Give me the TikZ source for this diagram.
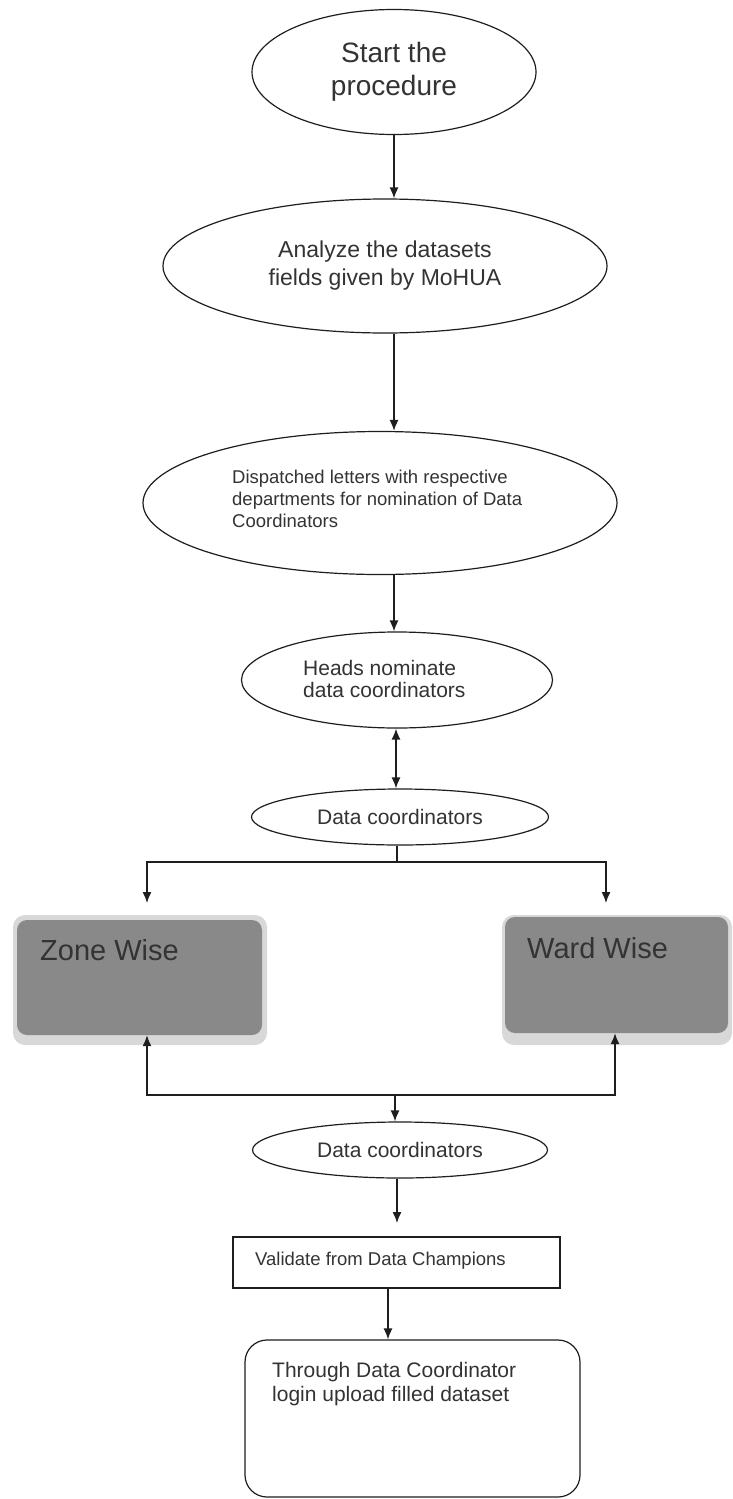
\documentclass[tikz,border=0pt]{standalone}
\usepackage{fontspec}
\setmainfont{Liberation Sans}
\usetikzlibrary{shapes.geometric,arrows.meta}
\definecolor{ink}{HTML}{1E1E1E}
\definecolor{txt}{HTML}{333333}
\definecolor{boxfill}{HTML}{898989}
\definecolor{halo}{HTML}{D8D8D8}
\begin{document}
\begin{tikzpicture}[x=1pt,y=-1pt,
  oval/.style={draw=ink, line width=1.2pt, ellipse, inner sep=0pt, text=txt, align=center},
  lbl/.style={text=txt, inner sep=0pt, align=left},
  arr/.style={draw=ink, line width=1.4pt, -{Latex[length=11pt,width=9pt]}},
  dblarr/.style={draw=ink, line width=1.4pt, {Latex[length=11pt,width=9pt]}-{Latex[length=11pt,width=9pt]}},
  ln/.style={draw=ink, line width=1.4pt},
  halobox/.style={fill=halo, rounded corners=12pt, inner sep=0pt},
  darkbox/.style={fill=boxfill, rounded corners=10pt, inner sep=0pt},
  bigtxt/.style={text=txt, inner sep=0pt, font=\fontsize{29}{33}\selectfont},
  plainbox/.style={draw=ink, line width=1.2pt, inner sep=0pt}]
\useasboundingbox[fill=white] (0,0) rectangle (733,1499);

% ellipses
\node[oval, minimum width=284pt, minimum height=125pt, font=\fontsize{28}{33}\selectfont] (e1) at (394,72) {Start the\\procedure};
\node[oval, minimum width=444pt, minimum height=134pt, font=\fontsize{23}{28}\selectfont] (e2) at (385,266) {Analyze the datasets\\fields given by MoHUA};
\node[oval, minimum width=474pt, minimum height=143pt] (e3) at (380,503) {};
\node[lbl, anchor=west, font=\fontsize{18.5}{22}\selectfont] (t3) at (232,498.5) {Dispatched letters with respective\\departments for nomination of Data\\Coordinators};
\node[oval, minimum width=311pt, minimum height=96pt] (e4) at (397,680) {};
\node[lbl, anchor=west, font=\fontsize{21}{22}\selectfont] (t4) at (303,679) {Heads nominate\\data coordinators};
\node[oval, minimum width=297pt, minimum height=56pt, font=\fontsize{21}{24}\selectfont] (e5) at (400,817) {Data coordinators};

% zone / ward boxes
\node[halobox, minimum width=254pt, minimum height=130pt] (zoneh) at (140,980) {};
\node[darkbox, minimum width=245pt, minimum height=115pt] (zone) at (139.5,977.5) {};
\node[bigtxt, anchor=base west] (zonet) at (40,960) {Zone Wise};
\node[halobox, minimum width=230pt, minimum height=130pt] (wardh) at (617,980) {};
\node[darkbox, minimum width=223pt, minimum height=116pt] (ward) at (616.5,975) {};
\node[bigtxt, anchor=base west] (wardt) at (527,958) {Ward Wise};

\node[oval, minimum width=295pt, minimum height=56pt, font=\fontsize{21}{24}\selectfont] (e6) at (400,1150) {Data coordinators};

\node[plainbox, minimum width=327pt, minimum height=51pt] (v) at (396.5,1262.5) {};
\node[lbl, anchor=west, font=\fontsize{18.5}{22}\selectfont] (tv) at (255,1261) {Validate from Data Champions};

\node[plainbox, rounded corners=22pt, minimum width=335pt, minimum height=157pt] (f) at (412.5,1418.5) {};
\node[lbl, anchor=west, font=\fontsize{21}{24}\selectfont] (tf) at (272,1384) {Through Data Coordinator\\login upload filled dataset};

% helper coordinates
\coordinate (ax) at (394,0);
\coordinate (ax2) at (396,0);
\coordinate (s1) at (397,862);
\coordinate (zl) at (147,903);
\coordinate (wr) at (606,903);
\coordinate (zb) at (147,0);
\coordinate (wb) at (615,0);
\coordinate (j) at (395,1095);
\coordinate (a6) at (397,1223);
\coordinate (a7) at (388,0);

% connectors
\draw[arr] (e1.south -| ax) -- (e2.north -| ax);
\draw[arr] (e2.south -| ax) -- (e3.north -| ax);
\draw[arr] (e3.south -| ax) -- (e4.north -| ax);
\draw[dblarr] (e4.south -| ax2) -- (e5.north -| ax2);
\draw[ln] (e5.south -| s1) -- (s1);
\draw[arr] (s1) -| (zl);
\draw[arr] (s1) -| (wr);
\draw[arr] (j) -| (zone.south -| zb);
\draw[arr] (j) -| (ward.south -| wb);
\draw[arr] (j) -- (e6.north -| j);
\draw[arr] (e6.south -| a6) -- (a6);
\draw[arr] (v.south -| a7) -- (f.north -| a7);
\end{tikzpicture}
\end{document}
